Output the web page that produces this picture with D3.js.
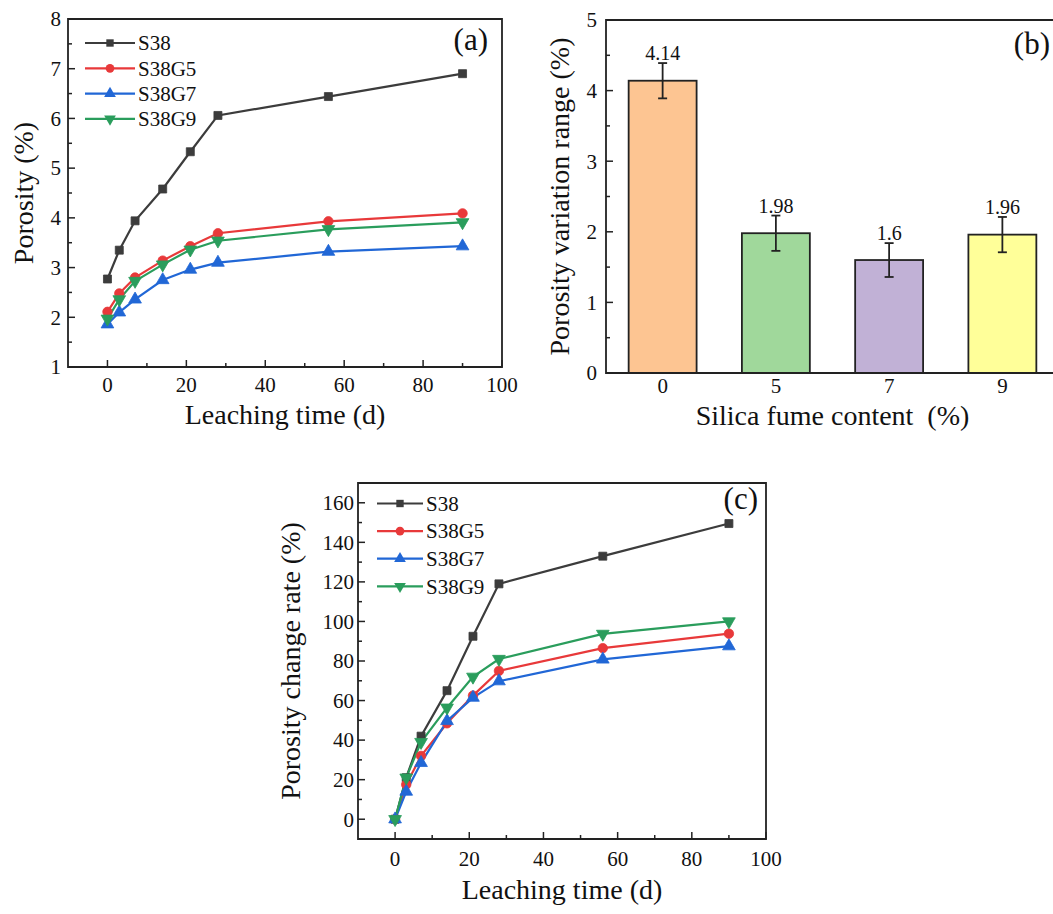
<!DOCTYPE html>
<html lang="en">
<head>
<meta charset="UTF-8">
<title>Porosity charts</title>
<script src="https://d3js.org/d3.v7.min.js"></script>
<style>
  body { margin: 0; background: #fff; }
  svg text { font-family: "Liberation Serif", "Times New Roman", serif; fill: #111; }
</style>
</head>
<body>
<div id="chart"></div>
<script>
// ---- data ----
const days = [0, 3, 7, 14, 21, 28, 56, 90];
const seriesNames = ["S38", "S38G5", "S38G7", "S38G9"];
const seriesColors = ["#3c3c3c", "#e8393a", "#2167d6", "#2a9d5c"];

// (a) porosity (%)
const porS38   = [2.77, 3.35, 3.94, 4.58, 5.33, 6.06, 6.44, 6.90];
const porS38G5 = [2.11, 2.48, 2.80, 3.14, 3.43, 3.69, 3.93, 4.09];
const porS38G7 = [1.86, 2.10, 2.36, 2.75, 2.96, 3.10, 3.32, 3.43];
const porS38G9 = [1.97, 2.36, 2.73, 3.06, 3.36, 3.54, 3.77, 3.91];

// (b) porosity variation range
const silicaContent = ["0", "5", "7", "9"];
const variationRange = [4.14, 1.98, 1.6, 1.96];
const variationErr = [0.25, 0.25, 0.24, 0.25];
const barColors = ["#fdc592", "#a0d89b", "#c1b1d6", "#ffff99"];

// (c) porosity change rate (%)
const rateS38   = [0, 21, 42, 65, 92.5, 119, 133, 149.5];
const rateS38G5 = [0, 17.5, 32, 48.5, 62.5, 75, 86.5, 93.8];
const rateS38G7 = [0, 14, 28.5, 49.7, 61.5, 69.8, 80.8, 87.5];
const rateS38G9 = [0, 21, 39, 56.4, 72, 81, 93.7, 100];

const W = 1053, H = 914;
const svg = d3.select("#chart").append("svg").attr("width", W).attr("height", H);
svg.append("rect").attr("width", W).attr("height", H).attr("fill", "#fff");

const symbols = [d3.symbolSquare, d3.symbolCircle, d3.symbolTriangle, d3.symbolTriangle];
const symRot = [0, 0, 0, 180];
const symSize = [64, 70, 70, 70];

function frame(g, x0, x1, y0, y1, openRight) {
  const p = d3.path();
  if (openRight) {
    p.moveTo(x1 + 20, y0); p.lineTo(x0, y0); p.lineTo(x0, y1); p.lineTo(x1 + 20, y1);
  } else {
    p.moveTo(x0, y0); p.lineTo(x1, y0); p.lineTo(x1, y1); p.lineTo(x0, y1); p.closePath();
  }
  g.append("path").attr("d", p.toString()).attr("fill", "none")
    .attr("stroke", "#222").attr("stroke-width", 1.8);
}

// inward ticks along an axis
function leftAxis(g, y, x0, major, minor, fmt, labelGap) {
  minor.forEach(v => g.append("line").attr("x1", x0).attr("x2", x0 + 4)
    .attr("y1", y(v)).attr("y2", y(v)).attr("stroke", "#222").attr("stroke-width", 1.5));
  major.forEach(v => {
    g.append("line").attr("x1", x0).attr("x2", x0 + 7)
      .attr("y1", y(v)).attr("y2", y(v)).attr("stroke", "#222").attr("stroke-width", 1.5);
    g.append("text").attr("x", x0 - labelGap).attr("y", y(v)).attr("dy", "0.35em")
      .attr("text-anchor", "end").attr("font-size", 21).text(fmt(v));
  });
}
function bottomAxis(g, x, y0, major, minor, fmt, baseline) {
  minor.forEach(v => g.append("line").attr("x1", x(v)).attr("x2", x(v))
    .attr("y1", y0).attr("y2", y0 - 4).attr("stroke", "#222").attr("stroke-width", 1.5));
  major.forEach(v => {
    g.append("line").attr("x1", x(v)).attr("x2", x(v))
      .attr("y1", y0).attr("y2", y0 - 7).attr("stroke", "#222").attr("stroke-width", 1.5);
    g.append("text").attr("x", x(v)).attr("y", baseline)
      .attr("text-anchor", "middle").attr("font-size", 21).text(fmt(v));
  });
}

function linePanel(opts) {
  const g = svg.append("g");
  const x = d3.scaleLinear().domain([-10, 100]).range([opts.x0, opts.x1]);
  const y = d3.scaleLinear().domain(opts.yDomain).range([opts.y1, opts.y0]);
  const line = d3.line().x((d, i) => x(days[i])).y(d => y(d));

  opts.series.forEach((vals, k) => {
    g.append("path").datum(vals).attr("d", line).attr("fill", "none")
      .attr("stroke", seriesColors[k]).attr("stroke-width", 2.2);
  });
  opts.series.forEach((vals, k) => {
    g.selectAll(null).data(vals).join("path")
      .attr("d", d3.symbol().type(symbols[k]).size(symSize[k]))
      .attr("transform", (d, i) => `translate(${x(days[i])},${y(d)}) rotate(${symRot[k]})`)
      .attr("fill", seriesColors[k]).attr("stroke", seriesColors[k]).attr("stroke-width", 0.8);
  });

  frame(g, opts.x0, opts.x1, opts.y0, opts.y1, false);
  leftAxis(g, y, opts.x0, opts.yMajor, opts.yMinor, d => d, opts.yLabelGap);
  bottomAxis(g, x, opts.y1, [0, 20, 40, 60, 80, 100], [10, 30, 50, 70, 90], d => d, opts.xTickBase);

  // legend
  seriesNames.forEach((name, k) => {
    const ly = opts.legY + k * opts.legStep;
    g.append("line").attr("x1", opts.legX).attr("x2", opts.legX + opts.legLen)
      .attr("y1", ly).attr("y2", ly).attr("stroke", seriesColors[k]).attr("stroke-width", 2.2);
    g.append("path").attr("d", d3.symbol().type(symbols[k]).size(symSize[k] * 0.85))
      .attr("transform", `translate(${opts.legX + opts.legLen / 2},${ly}) rotate(${symRot[k]})`)
      .attr("fill", seriesColors[k]);
    g.append("text").attr("x", opts.legX + opts.legLen + 3).attr("y", ly).attr("dy", "0.35em")
      .attr("font-size", 21).text(name);
  });

  g.append("text").attr("x", opts.tagX).attr("y", opts.tagY).attr("text-anchor", "end")
    .attr("font-size", 31).text(opts.tag);
  g.append("text").attr("transform", `translate(${opts.yTitleX},${(opts.y0 + opts.y1) / 2}) rotate(-90)`)
    .attr("text-anchor", "middle").attr("font-size", 28).text(opts.yTitle);
  g.append("text").attr("x", (opts.x0 + opts.x1) / 2).attr("y", opts.xTitleY)
    .attr("text-anchor", "middle").attr("font-size", 28).text("Leaching time (d)");
}

// ---- panel (a) ----
linePanel({
  x0: 68, x1: 502, y0: 19, y1: 367,
  yDomain: [1, 8], yMajor: [1, 2, 3, 4, 5, 6, 7, 8], yMinor: [1.5, 2.5, 3.5, 4.5, 5.5, 6.5, 7.5],
  yLabelGap: 7, xTickBase: 392,
  series: [porS38, porS38G5, porS38G7, porS38G9],
  legX: 85, legY: 43, legStep: 25.3, legLen: 50,
  tag: "(a)", tagX: 488, tagY: 50,
  yTitle: "Porosity (%)", yTitleX: 33, xTitleY: 424
});

// ---- panel (c) ----
linePanel({
  x0: 358, x1: 766, y0: 483, y1: 839,
  yDomain: [-10, 170], yMajor: [0, 20, 40, 60, 80, 100, 120, 140, 160],
  yMinor: [10, 30, 50, 70, 90, 110, 130, 150],
  yLabelGap: 4, xTickBase: 866,
  series: [rateS38, rateS38G5, rateS38G7, rateS38G9],
  legX: 377, legY: 503.5, legStep: 27.6, legLen: 46,
  tag: "(c)", tagX: 758, tagY: 509,
  yTitle: "Porosity change rate (%)", yTitleX: 300, xTitleY: 899
});

// ---- panel (b) ----
(function () {
  const g = svg.append("g");
  const x0 = 606, x1 = 1059, y0 = 20, y1 = 373;
  const x = d3.scaleBand().domain(silicaContent).range([x0, x1]).paddingInner(0.4).paddingOuter(0.2);
  const y = d3.scaleLinear().domain([0, 5]).range([y1, y0]);

  g.selectAll("rect.bar").data(variationRange).join("rect").attr("class", "bar")
    .attr("x", (d, i) => x(silicaContent[i])).attr("width", x.bandwidth())
    .attr("y", d => y(d)).attr("height", d => y1 - y(d))
    .attr("fill", (d, i) => barColors[i]).attr("stroke", "#222").attr("stroke-width", 1.8);

  variationRange.forEach((v, i) => {
    const cx = x(silicaContent[i]) + x.bandwidth() / 2;
    const e = variationErr[i];
    g.append("line").attr("x1", cx).attr("x2", cx).attr("y1", y(v + e)).attr("y2", y(v - e))
      .attr("stroke", "#222").attr("stroke-width", 1.8);
    [v + e, v - e].forEach(t => g.append("line").attr("x1", cx - 4.5).attr("x2", cx + 4.5)
      .attr("y1", y(t)).attr("y2", y(t)).attr("stroke", "#222").attr("stroke-width", 1.8));
    g.append("text").attr("x", cx).attr("y", y(v + e) - 3).attr("text-anchor", "middle")
      .attr("font-size", 20).text(v);
    g.append("text").attr("x", cx).attr("y", 393).attr("text-anchor", "middle")
      .attr("font-size", 21).text(silicaContent[i]);
  });

  frame(g, x0, x1, y0, y1, true);
  leftAxis(g, y, x0, [0, 1, 2, 3, 4, 5], [0.5, 1.5, 2.5, 3.5, 4.5], d => d, 9);

  g.append("text").attr("x", 1050).attr("y", 54).attr("text-anchor", "end")
    .attr("font-size", 31).text("(b)");
  g.append("text").attr("transform", `translate(569,${(y0 + y1) / 2}) rotate(-90)`)
    .attr("text-anchor", "middle").attr("font-size", 28).text("Porosity variation range (%)");
  g.append("text").attr("x", (x0 + x1) / 2).attr("y", 425).attr("text-anchor", "middle")
    .attr("font-size", 28).attr("xml:space", "preserve").style("white-space", "pre")
    .text("Silica fume content  (%)");
})();
</script>
</body>
</html>
